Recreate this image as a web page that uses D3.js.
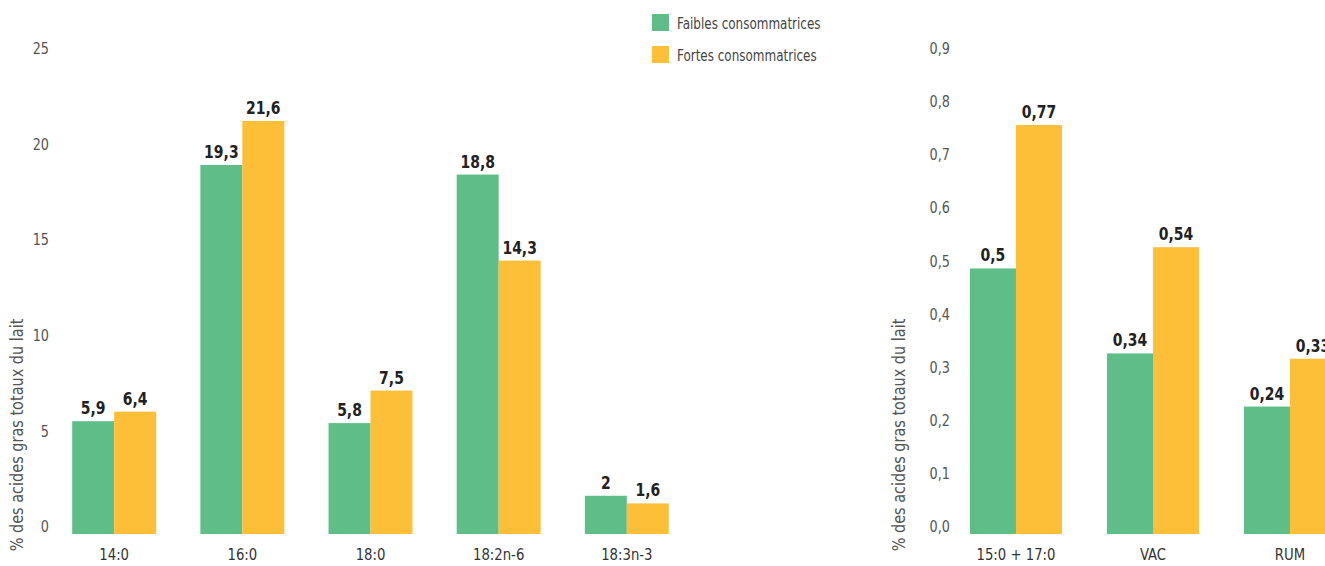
<!DOCTYPE html>
<html>
<head>
<meta charset="utf-8">
<script src="https://cdn.jsdelivr.net/npm/d3@7"></script>
<style>
  body { margin: 0; background: #fff; }
  svg text { font-family: "Liberation Sans Narrow", "DejaVu Sans Condensed", "Roboto", sans-serif; }
</style>
</head>
<body>
<div id="chart"></div>
<script>
// ===============================
// DONNÉES
// ===============================
const seriesNames = ["Faibles consommatrices", "Fortes consommatrices"];
const colors = ["#5fbe87", "#fdbe38"];

const leftCategories = ["14:0", "16:0", "18:0", "18:2n-6", "18:3n-3"];
const leftFaibles = [5.9, 19.3, 5.8, 18.8, 2];
const leftFortes = [6.4, 21.6, 7.5, 14.3, 1.6];
const leftTicks = [0, 5, 10, 15, 20, 25];

const rightCategories = ["15:0 + 17:0", "VAC", "RUM"];
const rightFaibles = [0.5, 0.34, 0.24];
const rightFortes = [0.77, 0.54, 0.33];
const rightTicks = [0, 0.1, 0.2, 0.3, 0.4, 0.5, 0.6, 0.7, 0.8, 0.9];

const yTitle = "% des acides gras totaux du lait";

// ===============================
// SVG
// ===============================
const W = 1325, H = 566;
const svg = d3.select("#chart").append("svg")
  .attr("width", W).attr("height", H);

const fr = (v) => String(v).replace(".", ",");
// texte condensé : la police du modèle est plus étroite
const squeeze = (x, y, sx) => `translate(${x},${y}) scale(${sx},1)`;

function panel(cats, faibles, fortes, ticks, opt) {
  const y = d3.scaleLinear().domain([0, opt.max]).range([534, 56]);
  const x = d3.scaleBand().domain(cats).range(opt.xRange)
    .paddingInner(opt.pad).paddingOuter(opt.pad);
  const xs = d3.scaleBand().domain([0, 1]).range([0, x.bandwidth()]);

  // graduations Y
  svg.append("g").selectAll("text").data(ticks).join("text")
    .attr("transform", (d) => squeeze(opt.tickX, y(d) - 6, 0.92))
    .attr("text-anchor", "end")
    .attr("dominant-baseline", "middle")
    .attr("font-size", "15.5px")
    .attr("fill", "#555")
    .text((d) => opt.fmt(d));

  // titre Y
  svg.append("text")
    .attr("transform", `translate(${opt.titleX},435) rotate(-90) scale(0.92,1)`)
    .attr("text-anchor", "middle")
    .attr("dominant-baseline", "middle")
    .attr("font-size", "17.5px")
    .attr("fill", "#555")
    .text(yTitle);

  const rows = cats.map((c, i) => ({ cat: c, vals: [faibles[i], fortes[i]] }));

  const g = svg.append("g").selectAll("g").data(rows).join("g")
    .attr("transform", (d) => `translate(${x(d.cat)},0)`);

  g.selectAll("rect").data((d) => d.vals).join("rect")
    .attr("x", (d, i) => xs(i))
    .attr("width", xs.bandwidth())
    .attr("y", (d) => y(d))
    .attr("height", (d) => y(0) - y(d))
    .attr("fill", (d, i) => colors[i]);

  g.selectAll("text.val").data((d) => d.vals).join("text")
    .attr("class", "val")
    .attr("transform", (d, i) => squeeze(xs(i) + xs.bandwidth() / 2, y(d) - 7, 0.84))
    .attr("text-anchor", "middle")
    .attr("font-size", "18.5px")
    .attr("font-weight", "bold")
    .attr("fill", "#222")
    .text((d) => fr(d));

  // étiquettes X
  svg.append("g").selectAll("text").data(cats).join("text")
    .attr("transform", (d) => squeeze(x(d) + x.bandwidth() / 2, 555, 0.92))
    .attr("text-anchor", "middle")
    .attr("dominant-baseline", "middle")
    .attr("font-size", "16px")
    .attr("fill", "#333")
    .text((d) => d);
}

panel(leftCategories, leftFaibles, leftFortes, leftTicks, {
  max: 25, xRange: [28, 713], pad: 0.345, tickX: 49, titleX: 18,
  fmt: (d) => String(d),
});

panel(rightCategories, rightFaibles, rightFortes, rightTicks, {
  max: 0.9, xRange: [925, 1381], pad: 0.328, tickX: 950, titleX: 900,
  fmt: (d) => d.toFixed(1).replace(".", ","),
});

// ===============================
// LÉGENDE
// ===============================
const legend = svg.append("g").selectAll("g").data(seriesNames).join("g")
  .attr("transform", (d, i) => `translate(652,${14 + i * 32})`);

legend.append("rect")
  .attr("width", 17).attr("height", 17)
  .attr("fill", (d, i) => colors[i]);

legend.append("text")
  .attr("transform", squeeze(25, 11, 0.86))
  .attr("dominant-baseline", "middle")
  .attr("font-size", "15.5px")
  .attr("fill", "#444")
  .text((d) => d);
</script>
</body>
</html>
